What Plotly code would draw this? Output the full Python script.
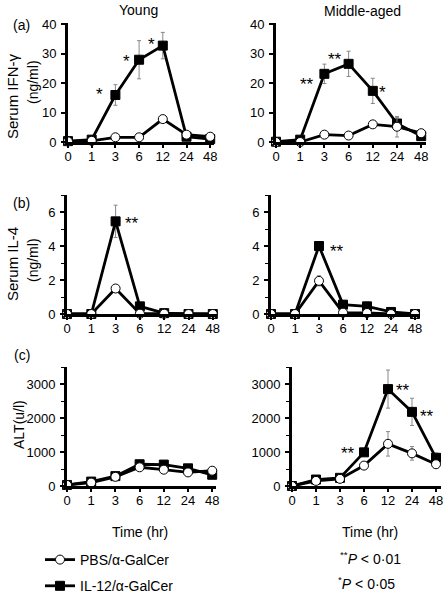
import plotly.graph_objects as go

# ---------------- data ----------------
times = ["0", "1", "3", "6", "12", "24", "48"]

ifn_young_il12 = [0.3, 0.8, 16.0, 28.0, 32.8, 1.8, 1.0]
ifn_young_il12_err = [0, 0, 3.5, 6.5, 4.5, 0, 0]
ifn_young_pbs = [0.2, 0.4, 1.6, 1.6, 7.8, 2.5, 1.8]
ifn_young_pbs_err = [0, 0, 0, 0, 0, 0, 0]

ifn_mid_il12 = [0.1, 0.8, 23.2, 26.6, 17.4, 6.3, 2.0]
ifn_mid_il12_err = [0, 0, 3.3, 4.3, 4.3, 2.0, 0]
ifn_mid_pbs = [0.0, 0.0, 2.5, 2.2, 6.0, 5.2, 3.0]
ifn_mid_pbs_err = [0, 0, 0, 0, 0, 3.5, 0]

il4_young_il12 = [0, 0, 5.45, 0.45, 0.05, 0, 0]
il4_young_il12_err = [0, 0, 0.95, 0, 0, 0, 0]
il4_young_pbs = [0, 0, 1.5, 0.02, 0.02, 0, 0]
il4_young_pbs_err = [0, 0, 0, 0, 0, 0, 0]

il4_mid_il12 = [0, 0, 4.0, 0.55, 0.45, 0.12, 0]
il4_mid_il12_err = [0, 0, 0.2, 0, 0.25, 0, 0]
il4_mid_pbs = [0, 0, 1.95, 0.08, 0.06, 0, 0]
il4_mid_pbs_err = [0, 0, 0.3, 0, 0, 0, 0]

alt_young_il12 = [30, 130, 290, 640, 630, 520, 330]
alt_young_il12_err = [0, 0, 0, 0, 0, 0, 0]
alt_young_pbs = [30, 100, 270, 550, 480, 400, 450]
alt_young_pbs_err = [0, 0, 0, 0, 0, 0, 0]

alt_mid_il12 = [0, 190, 240, 990, 2850, 2180, 830]
alt_mid_il12_err = [0, 0, 0, 100, 560, 400, 140]
alt_mid_pbs = [0, 150, 210, 600, 1240, 960, 640]
alt_mid_pbs_err = [0, 0, 0, 80, 360, 200, 0]

FONT = "Liberation Sans, Arial, Helvetica, sans-serif"
W, H = 446, 594

fig = go.Figure()

panels = [
    ("x", "y", ifn_young_il12, ifn_young_il12_err, ifn_young_pbs, ifn_young_pbs_err),
    ("x2", "y2", ifn_mid_il12, ifn_mid_il12_err, ifn_mid_pbs, ifn_mid_pbs_err),
    ("x3", "y3", il4_young_il12, il4_young_il12_err, il4_young_pbs, il4_young_pbs_err),
    ("x4", "y4", il4_mid_il12, il4_mid_il12_err, il4_mid_pbs, il4_mid_pbs_err),
    ("x5", "y5", alt_young_il12, alt_young_il12_err, alt_young_pbs, alt_young_pbs_err),
    ("x6", "y6", alt_mid_il12, alt_mid_il12_err, alt_mid_pbs, alt_mid_pbs_err),
]

for i, (xa, ya, s_vals, s_err, c_vals, c_err) in enumerate(panels):
    first = i == 0
    fig.add_trace(go.Scatter(
        x=times, y=s_vals, xaxis=xa, yaxis=ya,
        mode="lines+markers", name="IL-12/α-GalCer",
        legendgroup="il12", legendrank=2, showlegend=first,
        line=dict(color="black", width=2.8),
        marker=dict(symbol="square", size=9, color="black", line=dict(color="black", width=1)),
        error_y=dict(type="data", array=s_err, color="#888888", thickness=1, width=2),
        cliponaxis=False,
    ))
    fig.add_trace(go.Scatter(
        x=times, y=c_vals, xaxis=xa, yaxis=ya,
        mode="lines+markers", name="PBS/α-GalCer",
        legendgroup="pbs", legendrank=1, showlegend=first,
        line=dict(color="black", width=2.8),
        marker=dict(symbol="circle", size=9, color="white", line=dict(color="black", width=1)),
        error_y=dict(type="data", array=c_err, color="#888888", thickness=1, width=2),
        cliponaxis=False,
    ))

def px_x(p):
    return p / W

def px_y(p):
    return 1 - p / H

# per panel: (left px of axis, px per category step)
x_geo = [(68, 23.7), (276, 24.2), (67, 24.3), (271, 24.0), (67, 24.2), (292, 24.0)]
x_top = [6.17, 6.2, 6.17, 6.2, 6.17, 6.2]
row_doms = [
    [px_y(142), px_y(23)],
    [px_y(314), px_y(195)],
    [px_y(486), px_y(367)],
]
y_ranges = [[0, 40.5], [0, 7], [0, 3500]]
y_ticks = [[0, 10, 20, 30, 40], [0, 2, 4, 6], [0, 1000, 2000, 3000]]
y_minor = [None, 1, 500]

xcommon = dict(
    type="category", showgrid=False, zeroline=False, automargin=False,
    showline=True, linecolor="black", linewidth=3,
    ticks="outside", ticklen=3, tickwidth=1.5, tickcolor="black",
    tickfont=dict(family=FONT, size=13, color="black"),
    ticklabelstandoff=-3,
)
ycommon = dict(
    showgrid=False, zeroline=False, automargin=False,
    showline=True, linecolor="black", linewidth=3,
    ticks="outside", ticklen=4, tickwidth=1.5, tickcolor="black",
    tickfont=dict(family=FONT, size=13, color="black"),
    ticklabelstandoff=2,
)

layout = {}
for i in range(6):
    row = i // 2
    n = i + 1
    xname = "xaxis" if n == 1 else f"xaxis{n}"
    yname = "yaxis" if n == 1 else f"yaxis{n}"
    xid = "x" if n == 1 else f"x{n}"
    yid = "y" if n == 1 else f"y{n}"
    left, step = x_geo[i]
    layout[xname] = dict(
        xcommon, domain=[px_x(left), px_x(left + step * x_top[i])],
        range=[0, x_top[i]], anchor=yid,
    )
    yd = dict(ycommon, domain=row_doms[row], range=y_ranges[row],
              tickvals=y_ticks[row], anchor=xid)
    if y_minor[row] is not None:
        yd["minor"] = dict(dtick=y_minor[row], ticks="outside", ticklen=3,
                           tickwidth=1.2, tickcolor="black")
    layout[yname] = yd

fig.update_layout(**layout)

annotations = []

def text_ann(text, x, y, size=14, angle=0, xanchor="center", yanchor="middle"):
    annotations.append(dict(
        text=text, x=px_x(x), y=px_y(y), xref="paper", yref="paper",
        showarrow=False, textangle=angle, xanchor=xanchor, yanchor=yanchor,
        font=dict(family=FONT, size=size, color="black"),
    ))

text_ann("Young", 138, 10, 14)
text_ann("Middle-aged", 362, 11, 14)
text_ann("(a)", 21, 25, 14)
text_ann("(b)", 21, 203, 14)
text_ann("(c)", 22, 355, 14)
text_ann("Serum IFN-γ", 12, 96, 15, -90)
text_ann("(ng/ml)", 33, 82, 14, -90)
text_ann("Serum IL-4", 12, 264, 15, -90)
text_ann("(ng/ml)", 33, 260, 14, -90)
text_ann("ALT(u/l)", 19, 425, 14, -90)
text_ann("Time (hr)", 140, 532, 14)
text_ann("Time (hr)", 370, 532, 14)
text_ann("<sup>**</sup><i>P</i> < 0·01", 370, 569, 14, yanchor="bottom")
text_ann("<sup>*</sup><i>P</i> < 0·05", 366, 594, 14, yanchor="bottom")

# significance stars: x as position along the category axis, y in data units
stars = [
    (0, 1.35, 16.0, "*"),
    (0, 2.45, 27.3, "*"),
    (0, 3.54, 33.1, "*"),
    (1, 1.28, 19.5, "**"),
    (1, 2.44, 28.0, "**"),
    (1, 4.42, 16.7, "*"),
    (2, 2.67, 5.3, "**"),
    (3, 2.75, 3.7, "**"),
    (5, 2.33, 955, "**"),
    (5, 4.63, 2800, "**"),
    (5, 5.63, 2030, "**"),
]
for p, xv, yv, t in stars:
    n = p + 1
    xid = "x" if n == 1 else f"x{n}"
    yid = "y" if n == 1 else f"y{n}"
    annotations.append(dict(
        text=t, x=xv / x_top[p], y=yv,
        xref=f"{xid} domain", yref=yid, showarrow=False,
        xanchor="center", yanchor="middle",
        font=dict(family=FONT, size=17, color="black"),
    ))

fig.update_layout(
    width=W, height=H, autosize=False,
    margin=dict(l=0, r=0, t=0, b=0, pad=0, autoexpand=False),
    paper_bgcolor="white", plot_bgcolor="white",
    annotations=annotations,
    showlegend=True,
    legend=dict(
        x=px_x(40), y=px_y(544), xanchor="left", yanchor="top",
        font=dict(family=FONT, size=14, color="black"),
        bgcolor="rgba(0,0,0,0)", tracegroupgap=5,
        traceorder="grouped", itemwidth=30,
    ),
)

fig.write_html(
    "out.html",
    config={"displayModeBar": False},
    post_script=(
        "document.documentElement.style.margin='0';"
        "document.body.style.margin='0';"
        "document.body.style.overflow='hidden';"
        "var g=document.getElementById('{plot_id}');"
        "g.style.position='fixed';g.style.left='0px';g.style.top='0px';"
    ),
)
